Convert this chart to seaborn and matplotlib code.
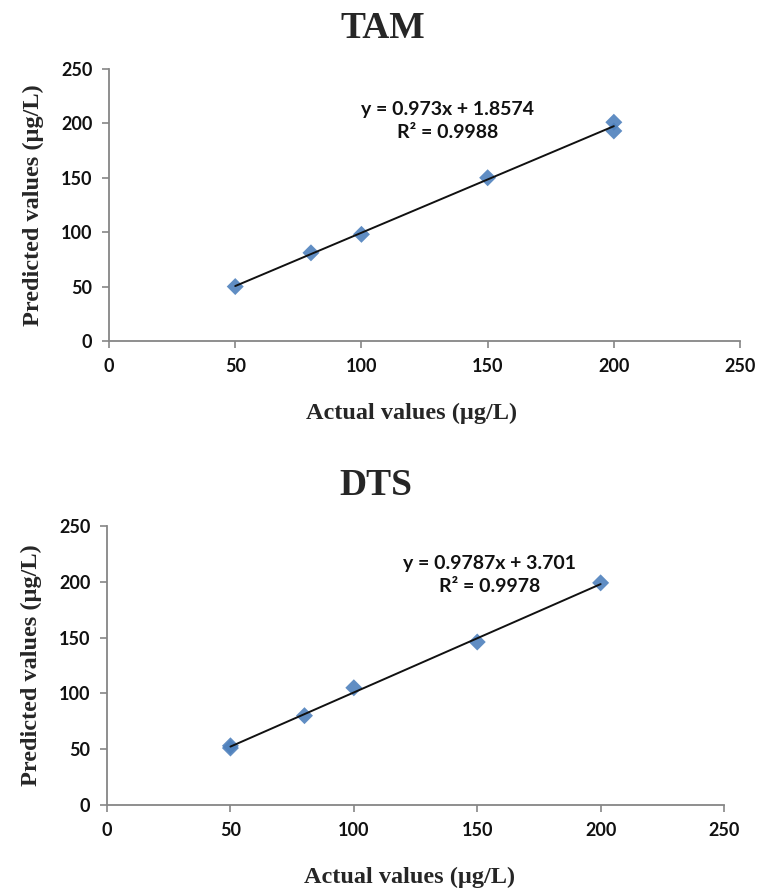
import matplotlib
matplotlib.use("Agg")
import matplotlib.pyplot as plt
import seaborn as sns
import numpy as np
import pandas as pd

# ---- data ----
tam_actual = [50, 80, 100, 150, 200, 200]
tam_pred = [50, 81, 98, 150, 193, 201]
tam_eq = "y = 0.973x + 1.8574"
tam_r2 = "R² = 0.9988"

dts_actual = [50, 50, 80, 100, 150, 200]
dts_pred = [51, 53, 80, 105, 146, 199]
dts_eq = "y = 0.9787x + 3.701"
dts_r2 = "R² = 0.9978"

ticks = [0, 50, 100, 150, 200, 250]

sns.set_theme(style="white")
plt.rcParams['font.family'] = ['Lato', 'DejaVu Sans']

fig = plt.figure(figsize=(7.7, 8.94), dpi=100)
ax1 = fig.add_axes([0.1416, 0.6186, 0.8195, 0.3043])
ax2 = fig.add_axes([0.139, 0.0996, 0.8013, 0.3121])

marker_color = "#4F81BD"
spine_color = "#868686"

def draw(ax, x, y, title, eq, r2, eq_xy, title_x, xlabel_xy):
    df = pd.DataFrame({"actual": x, "pred": y})
    sns.regplot(data=df, x="actual", y="pred", ax=ax, ci=None, marker="D",
                scatter_kws=dict(s=75, color=marker_color, edgecolor="none", alpha=0.9, zorder=2),
                line_kws=dict(color="#111111", lw=1.4, zorder=3))
    ax.set_xlim(0, 250)
    ax.set_ylim(0, 250)
    ax.set_xticks(ticks)
    ax.set_yticks(ticks)
    for s in ["top", "right"]:
        ax.spines[s].set_visible(False)
    for s in ["left", "bottom"]:
        ax.spines[s].set_color(spine_color)
        ax.spines[s].set_linewidth(1.3)
    ax.tick_params(axis="both", which="major", direction="out", length=5, width=1.2,
                   color=spine_color, labelsize=13, labelcolor="#111111", pad=7,
                   bottom=True, left=True)
    for lab in ax.get_xticklabels() + ax.get_yticklabels():
        lab.set_fontweight("bold")
    ax.set_xlabel("Actual values (µg/L)", family="Liberation Serif", fontweight="bold",
                  fontsize=17.5)
    ax.xaxis.set_label_coords(*xlabel_xy)
    ax.set_ylabel("Predicted values (µg/L)", family="Liberation Serif", fontweight="bold",
                  fontsize=17.5, labelpad=12)
    ax.set_title(title, family="Liberation Serif", fontweight="bold", fontsize=27, pad=22,
                 x=title_x)
    ax.text(eq_xy[0], eq_xy[1], eq + "\n" + r2, ha="center", va="center",
            fontsize=14, fontweight="bold", linespacing=1.45, color="#111111")

draw(ax1, tam_actual, tam_pred, "TAM", tam_eq, tam_r2, (134, 202), 0.434, (0.479, -0.228))
draw(ax2, dts_actual, dts_pred, "DTS", dts_eq, dts_r2, (155, 206), 0.436, (0.49, -0.22))

fig.savefig("out.png", dpi=100)
